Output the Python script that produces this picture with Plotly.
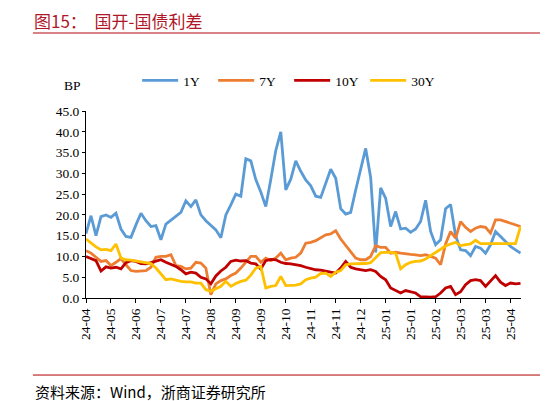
import plotly.graph_objects as go

# trading-day index, sampled every 3 sessions (Apr-2024 .. Apr-2025)
day_idx = list(range(0, 264, 3))

tick_pos = list(range(0, 256, 15))
tick_labels = ["24-04", "24-05", "24-06", "24-07", "24-07", "24-08", "24-09", "24-09",
               "24-10", "24-11", "24-11", "24-12", "25-01", "25-01", "25-02", "25-03",
               "25-03", "25-04"]

spread_1y = [15.5, 19.8, 15.0, 19.6, 20.0, 19.4, 20.4, 16.6, 14.8, 14.6,
             17.6, 20.4, 18.6, 17.2, 17.4, 14.0, 17.8, 18.8, 19.6, 20.6,
             23.4, 22.0, 23.6, 20.0, 18.6, 17.4, 16.4, 14.5, 20.0, 22.4,
             25.0, 24.5, 33.5, 33.0, 28.5, 25.5, 22.0, 28.5, 35.5, 40.0,
             26.0, 28.6, 33.0, 30.5, 28.4, 27.0, 24.5, 24.2, 27.5, 31.0,
             28.8, 21.5, 20.2, 20.6, 26.0, 31.0, 36.0, 29.0, 11.0, 26.5,
             24.0, 17.2, 20.8, 16.6, 16.8, 15.8, 16.6, 18.4, 23.5, 16.0,
             12.8, 14.0, 21.5, 22.5, 15.0, 11.6, 11.4, 10.2, 12.4, 12.0,
             10.8, 12.8, 16.0, 14.8, 13.6, 12.4, 11.6, 10.8]

spread_7y = [11.4, 10.8, 9.8, 8.8, 9.0, 7.8, 8.6, 9.5, 8.0, 6.6,
             6.4, 6.5, 6.6, 7.4, 9.8, 10.0, 10.0, 10.4, 7.8, 7.6,
             7.0, 7.2, 8.6, 8.4, 7.2, 0.8, 3.4, 4.2, 4.6, 5.4,
             6.0, 7.2, 8.6, 10.0, 10.0, 8.6, 9.6, 9.0, 9.6, 10.8,
             9.2, 9.6, 9.8, 10.8, 13.2, 13.4, 13.8, 14.6, 15.2, 15.4,
             16.2, 14.2, 12.6, 11.0, 9.6, 9.2, 9.2, 10.0, 12.6, 12.2,
             12.2, 10.8, 11.0, 10.8, 10.6, 10.5, 10.4, 10.2, 10.4, 10.0,
             9.6, 8.0, 13.0, 16.0, 14.4, 18.4, 17.0, 16.0, 16.8, 17.2,
             17.0, 15.6, 18.8, 18.8, 18.4, 18.0, 17.6, 17.2]

spread_10y = [10.0, 9.5, 9.0, 6.5, 7.5, 7.2, 7.4, 7.0, 8.5, 9.0,
              8.8, 8.3, 8.2, 8.5, 8.8, 9.2, 8.6, 8.1, 7.6, 6.8,
              5.8, 6.2, 6.0, 5.0, 4.6, 3.4, 5.3, 6.5, 7.4, 8.8,
              9.1, 8.9, 9.0, 8.4, 8.2, 7.0, 9.0, 9.3, 9.2, 8.6,
              8.3, 8.2, 8.0, 7.8, 7.4, 7.1, 6.8, 6.7, 6.4, 6.2,
              6.0, 7.2, 8.8, 7.4, 7.0, 6.8, 6.6, 6.8, 6.4, 5.2,
              4.4, 2.4, 1.8, 1.2, 1.8, 1.5, 1.2, 0.3, 0.2, 0.2,
              0.3, 1.2, 2.4, 2.8, 0.8, 1.5, 3.2, 4.2, 4.4, 4.2,
              2.8, 4.0, 5.4, 3.8, 3.0, 3.6, 3.4, 3.5]

spread_30y = [14.2, 13.2, 12.3, 11.6, 11.7, 11.4, 13.0, 9.6, 9.2, 9.1,
              8.9, 8.7, 8.6, 8.3, 7.2, 5.8, 4.4, 4.6, 4.3, 4.0,
              3.9, 3.9, 3.6, 3.6, 2.0, 1.6, 2.2, 2.8, 4.0, 2.8,
              3.5, 4.0, 4.3, 5.5, 7.2, 7.6, 2.4, 2.8, 3.0, 5.2,
              3.0, 3.1, 3.1, 3.4, 4.4, 4.8, 5.0, 5.9, 6.0, 5.2,
              6.2, 6.6, 8.0, 8.2, 8.2, 8.3, 8.3, 8.5, 9.8, 10.9,
              11.0, 11.0, 10.8, 7.0, 8.0, 8.6, 8.8, 8.9, 9.4, 10.2,
              11.0, 11.8, 12.5, 13.0, 13.4, 12.6, 12.8, 13.0, 13.9, 13.1,
              13.1, 13.1, 13.1, 13.1, 13.1, 13.1, 13.1, 17.2]

series = [
    ("1Y", spread_1y, "#5B9BD5"),
    ("7Y", spread_7y, "#ED7D31"),
    ("10Y", spread_10y, "#C00000"),
    ("30Y", spread_30y, "#FFC000"),
]

SERIF = "Liberation Serif"
CJK = "Noto Sans CJK SC"


def main():
    fig = go.Figure()
    for name, vals, color in series:
        fig.add_trace(go.Scatter(x=day_idx, y=vals, name=name, mode="lines",
                                 line=dict(color=color, width=2.8)))

    # page body adds an 8px margin, so the figure is 8px smaller than the window
    fig.update_layout(
        width=540, height=393,
        margin=dict(l=78, r=27, t=103, b=103),
        paper_bgcolor="white", plot_bgcolor="white",
        font=dict(family=SERIF, size=13.5, color="black"),
        legend=dict(orientation="h", x=0.1176, xanchor="left", y=1.163, yanchor="middle",
                    font=dict(family=SERIF, size=13.5), entrywidth=25,
                    itemwidth=36, bgcolor="rgba(0,0,0,0)"),
    )
    fig.update_xaxes(range=[0, 261.3], tickmode="array", tickvals=tick_pos, ticktext=tick_labels,
                     tickangle=-90, showline=True, linecolor="black", linewidth=1,
                     ticks="outside", ticklen=4, tickcolor="black", showgrid=False,
                     zeroline=False, tickfont=dict(family=SERIF, size=13.5))
    fig.update_yaxes(range=[0, 45], dtick=5, tickformat=".1f", showline=True,
                     linecolor="black", linewidth=1, ticks="outside", ticklen=3,
                     tickcolor="black", showgrid=False, zeroline=False,
                     tickfont=dict(family=SERIF, size=13.5))

    fig.add_annotation(text="图15：  国开-国债利差", xref="paper", yref="paper",
                       x=-0.125, y=1.486, xanchor="left", yanchor="middle", showarrow=False,
                       font=dict(family=CJK, size=17, color="#B0182A"))
    fig.add_shape(type="line", xref="paper", yref="paper", x0=-0.122, x1=1.07,
                  y0=1.417, y1=1.417, line=dict(color="#CC5A60", width=1.5))
    fig.add_annotation(text="BP", xref="paper", yref="paper", x=-0.032, y=1.134,
                       xanchor="center", yanchor="middle", showarrow=False,
                       font=dict(family=SERIF, size=13.5))
    fig.add_shape(type="line", xref="paper", yref="paper", x0=-0.122, x1=1.07,
                  y0=-0.412, y1=-0.412, line=dict(color="#B00000", width=1))
    fig.add_annotation(text="资料来源：Wind，浙商证券研究所", xref="paper", yref="paper",
                       x=-0.122, y=-0.50, xanchor="left", yanchor="middle", showarrow=False,
                       font=dict(family=CJK, size=15, color="black"))

    fig.write_html("out.html")


if __name__ == "__main__":
    main()
